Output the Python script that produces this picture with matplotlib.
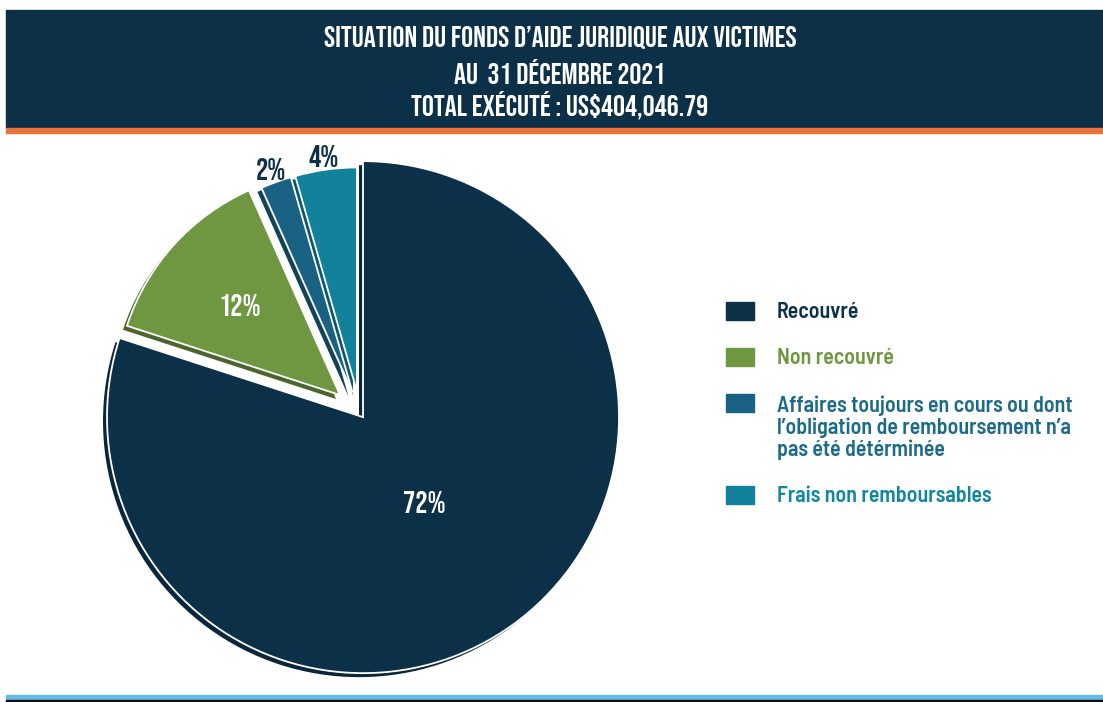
import numpy as np
import matplotlib
matplotlib.use("Agg")
from matplotlib import pyplot as plt
from matplotlib import font_manager as fm
from matplotlib.patches import Rectangle, Wedge
from matplotlib.colors import to_rgb

# datos
categories = ["Recouvré", "Non recouvré",
              "Affaires toujours en cours ou dont\nl\u2019obligation de remboursement n\u2019a\npas été détérminée",
              "Frais non remboursables"]
values = [72, 12, 2, 4]
pct_labels = ["72%", "12%", "2%", "4%"]
colors = ["#0d3049", "#6f9641", "#1a6283", "#12819b"]
text_colors = ["#0d3049", "#6f9641", "#1b6a8a", "#10869f"]
title_lines = ["SITUATION DU FONDS D\u2019AIDE JURIDIQUE AUX VICTIMES",
               "AU  31 DÉCEMBRE 2021",
               "TOTAL EXÉCUTÉ : US$404,046.79"]

W, H = 1103, 702
NAVY = "#0d3049"

installed = {f.name for f in fm.fontManager.ttflist}
def pick(cands):
    for c in cands:
        if c in installed:
            return [c, "DejaVu Sans"]
    return ["DejaVu Sans"]

TITLE_FONT = pick(["Bebas Neue", "Oswald", "Fjalla One", "Antonio", "Barlow Condensed",
                   "Roboto Condensed", "Asap Condensed", "Archivo Narrow"])
LEG_FONT = pick(["Barlow Semi Condensed", "Barlow Condensed", "Roboto Condensed",
                 "Asap Condensed", "Archivo Narrow"])

fig = plt.figure(figsize=(W / 100, H / 100), dpi=100)

# bandeau du titre
fig.patches.append(Rectangle((6 / W, 1 - 128 / H), 1, 118 / H, transform=fig.transFigure,
                             color=NAVY, zorder=0))
fig.patches.append(Rectangle((6 / W, 1 - 133 / H), 1, 5 / H, transform=fig.transFigure,
                             color="#e8743b", zorder=0))
# lignes du bas
fig.patches.append(Rectangle((6 / W, 2 / H), 1, 5 / H, transform=fig.transFigure,
                             color="#62bde6", zorder=0))
fig.patches.append(Rectangle((6 / W, 0), 1, 2 / H, transform=fig.transFigure,
                             color="#111111", zorder=0))

for i, line in enumerate(title_lines):
    fig.text(560 / W, 1 - (37 + 34.5 * i) / H, line, ha="center", va="center",
             color="white", fontsize=21.5, fontweight="bold", family=TITLE_FONT)

# camembert
R = 256.0
cx, cy = 360, 413
ax = fig.add_axes([0, 12 / H, 720 / W, 550 / H])
wedges, _ = ax.pie(values, colors=colors, startangle=90, counterclock=False,
                   explode=[0.02, 0.105, 0.085, 0.085],
                   wedgeprops=dict(edgecolor="white", linewidth=1.3))
ax.set_aspect("auto")
ax.set_xlim(-cx / R, (720 - cx) / R)
ax.set_ylim(-(690 - cy) / R, (cy - 140) / R)

label_dist = [0.41, 0.6, 1.06, 1.06]
label_size = [22, 22, 22, 22]
for i, w in enumerate(wedges):
    if i > 0:
        w.set_radius(0.875)
    w.set_zorder(3)
    # ombre pour l'effet 3D
    dark = tuple(c * (0.8 if i == 0 else 0.68) for c in to_rgb(colors[i]))
    x0, y0 = w.center
    sh = Wedge((x0 - 4 / R, y0 - 4 / R), w.r, w.theta1, w.theta2, facecolor=dark,
               edgecolor="none", zorder=2)
    ax.add_patch(sh)
    th = np.deg2rad((w.theta1 + w.theta2) / 2)
    tx = x0 + label_dist[i] * w.r * np.cos(th)
    ty = y0 + label_dist[i] * w.r * np.sin(th)
    col = "white" if i < 2 else NAVY
    ax.text(tx, ty, pct_labels[i], ha="center", va="center", color=col,
            fontsize=label_size[i], fontweight="bold", family=TITLE_FONT, zorder=5)

# légende
y = 311
for lab, col, tcol in zip(categories, colors, text_colors):
    fig.patches.append(Rectangle((726 / W, 1 - (y + 9) / H), 28 / W, 18 / H,
                                 transform=fig.transFigure, color=col))
    nl = lab.count("\n") + 1
    fig.text(777 / W, 1 - (y + 7 + 23 * (nl - 1)) / H, lab, ha="left", va="baseline",
             color=tcol, fontsize=15.8, fontweight=600, family=LEG_FONT, linespacing=1.1)
    y += 46 + 23 * (nl - 1)

fig.savefig("out.png", dpi=100)
